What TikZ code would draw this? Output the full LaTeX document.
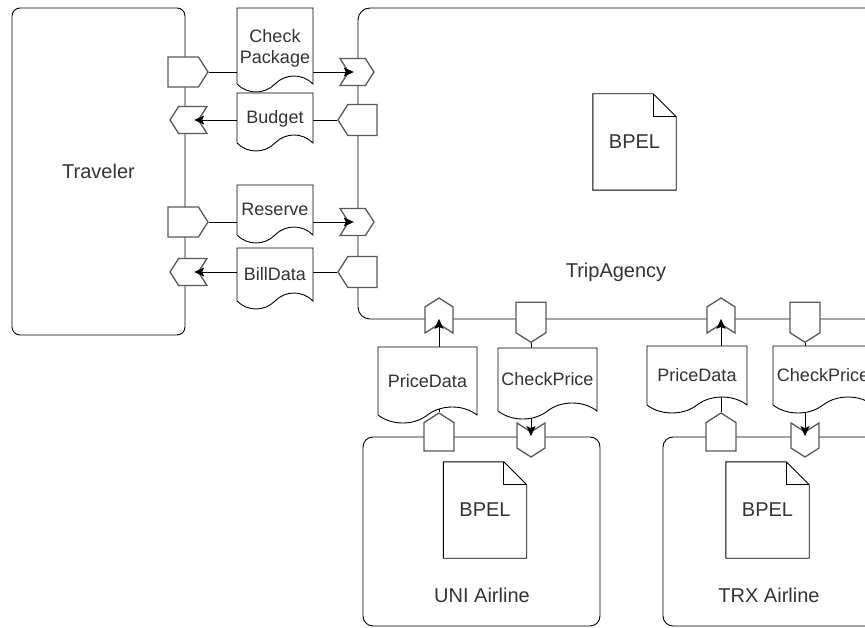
\documentclass[tikz,border=0pt]{standalone}
\usepackage{fontspec}
\setmainfont{Liberation Sans}
\usetikzlibrary{arrows.meta,shapes.symbols}

\begin{document}
\begin{tikzpicture}[
    x=1pt, y=-1pt,
    font=\fontsize{18}{21}\selectfont,
    container/.style={
        draw,
        line width=0.9pt,
        inner sep=0pt,
        text=black!80,
        font=\fontsize{20}{24}\selectfont
    },
    boxtitle/.style={
        text=black!80,
        font=\fontsize{20}{24}\selectfont
    },
    port/.style={
        signal,
        draw=black!65,
        line width=1.3pt,
        fill=white,
        inner sep=0pt,
        signal pointer angle=115
    },
    doc/.style={
        tape,
        tape bend top=none,
        tape bend height=16pt,
        draw,
        line width=0.9pt,
        fill=white,
        inner sep=0pt,
        text height=20pt,
        text depth=0pt,
        text=black!80
    },
    bpel/.style={
        minimum width=83pt,
        minimum height=96pt,
        text=black!80,
        font=\fontsize{20}{24}\selectfont
    },
    note/.style={
        line width=0.9pt
    },
    arrow/.style={
        -{Stealth[length=10pt,width=9pt,inset=2pt]},
        line width=0.9pt
    }
]

\clip (0,0) rectangle (865,628);

% ------------------------------------------------------------------
% Participants
% ------------------------------------------------------------------

\node[container, rounded corners=8pt, minimum width=173pt,
    minimum height=327pt] (traveler) at (98.5,171.5) {Traveler};

\node[container, rounded corners=12pt, minimum width=542pt,
    minimum height=311pt] (agency) at (629,163.5) {};
\node[boxtitle] (agencytitle) at (616,272) {TripAgency};

\node[container, rounded corners=10pt, minimum width=237pt,
    minimum height=189pt] (uni) at (481.5,531.5) {};
\node[boxtitle] (unititle) at (482,595) {UNI Airline};

\node[container, rounded corners=10pt, minimum width=212pt,
    minimum height=189pt] (trx) at (769,531.5) {};
\node[boxtitle] (trxtitle) at (769,595) {TRX Airline};

% ------------------------------------------------------------------
% BPEL processes
% ------------------------------------------------------------------

\node[bpel] (agencybpel) at (634.5,142) {BPEL};
\draw[note] (agencybpel.north west) -- ([xshift=-23pt]agencybpel.north east)
    -- ([yshift=-23pt]agencybpel.north east) -- (agencybpel.south east)
    -- (agencybpel.south west) -- cycle;
\draw[note] ([xshift=-23pt]agencybpel.north east)
    |- ([yshift=-23pt]agencybpel.north east);

\node[bpel] (unibpel) at (485,510) {BPEL};
\draw[note] (unibpel.north west) -- ([xshift=-23pt]unibpel.north east)
    -- ([yshift=-23pt]unibpel.north east) -- (unibpel.south east)
    -- (unibpel.south west) -- cycle;
\draw[note] ([xshift=-23pt]unibpel.north east)
    |- ([yshift=-23pt]unibpel.north east);

\node[bpel] (trxbpel) at (767.5,510) {BPEL};
\draw[note] (trxbpel.north west) -- ([xshift=-23pt]trxbpel.north east)
    -- ([yshift=-23pt]trxbpel.north east) -- (trxbpel.south east)
    -- (trxbpel.south west) -- cycle;
\draw[note] ([xshift=-23pt]trxbpel.north east)
    |- ([yshift=-23pt]trxbpel.north east);

% ------------------------------------------------------------------
% Ports (send: pointed, receive: notched)
% ------------------------------------------------------------------

\node[port, signal to=east, minimum width=40pt, minimum height=30pt]
    (trvcheckport) at (183.2,72) {};
\node[port, signal to=west, signal from=east, minimum width=37pt,
    minimum height=27pt] (trvbudgetport) at (188.5,120) {};
\node[port, signal to=east, minimum width=40pt, minimum height=30pt]
    (trvreserveport) at (183.2,222) {};
\node[port, signal to=west, signal from=east, minimum width=37pt,
    minimum height=27pt] (trvbillport) at (188.5,272) {};

\node[port, signal to=east, signal from=west, minimum width=34pt,
    minimum height=27pt] (agcheckport) at (357,72) {};
\node[port, signal to=west, minimum width=39pt, minimum height=31pt]
    (agbudgetport) at (362.4,120) {};
\node[port, signal to=east, signal from=west, minimum width=34pt,
    minimum height=27pt] (agreserveport) at (357,222) {};
\node[port, signal to=west, minimum width=39pt, minimum height=31pt]
    (agbillport) at (362.4,272) {};

\node[port, signal to=east, signal from=west, rotate=90,
    minimum width=35pt, minimum height=28pt] (agunipriceport) at (439,315.5) {};
\node[port, signal to=east, rotate=-90,
    minimum width=40pt, minimum height=30pt] (agunicheckport) at (531,317.5) {};
\node[port, signal to=east, signal from=west, rotate=90,
    minimum width=35pt, minimum height=28pt] (agtrxpriceport) at (721,315.5) {};
\node[port, signal to=east, rotate=-90,
    minimum width=40pt, minimum height=30pt] (agtrxcheckport) at (805,317.5) {};

\node[port, signal to=east, rotate=90,
    minimum width=38pt, minimum height=30pt] (unipriceport) at (439,436.8) {};
\node[port, signal to=east, signal from=west, rotate=-90,
    minimum width=34pt, minimum height=28pt] (unicheckport) at (531,440) {};
\node[port, signal to=east, rotate=90,
    minimum width=38pt, minimum height=30pt] (trxpriceport) at (721,436.8) {};
\node[port, signal to=east, signal from=west, rotate=-90,
    minimum width=34pt, minimum height=28pt] (trxcheckport) at (805,440) {};

% ------------------------------------------------------------------
% Message flows
% ------------------------------------------------------------------

\draw[arrow] (trvcheckport.east) -- ([xshift=6pt]agcheckport.west);
\draw[arrow] (agbudgetport.west) -- ([xshift=-5pt]trvbudgetport.east);
\draw[arrow] (trvreserveport.east) -- ([xshift=6pt]agreserveport.west);
\draw[arrow] (agbillport.west) -- ([xshift=-5pt]trvbillport.east);

\draw[arrow] (unipriceport.east) -- ([yshift=6pt]agunipriceport.west);
\draw[arrow] (agunicheckport.east) -- ([yshift=-5pt]unicheckport.west);
\draw[arrow] (trxpriceport.east) -- ([yshift=6pt]agtrxpriceport.west);
\draw[arrow] (agtrxcheckport.east) -- ([yshift=-5pt]trxcheckport.west);

% ------------------------------------------------------------------
% Messages
% ------------------------------------------------------------------

\node[doc, minimum width=76pt, minimum height=84pt, text height=23pt]
    (checkpkgdoc) at (275,42)
    {\begin{tabular}{@{}c@{}}Check\\Package\end{tabular}};
\node[doc, minimum width=76pt, minimum height=58pt] (budgetdoc)
    at (275,114) {Budget};
\node[doc, minimum width=76pt, minimum height=58pt] (reservedoc)
    at (275,206) {Reserve};
\node[doc, minimum width=76pt, minimum height=61pt] (billdoc)
    at (275,270.5) {BillData};

\node[doc, minimum width=99pt, minimum height=76pt] (unipricedoc)
    at (427.5,377) {PriceData};
\node[doc, minimum width=99pt, minimum height=71pt] (unicheckdoc)
    at (547.5,375.5) {CheckPrice};
\node[doc, minimum width=100pt, minimum height=67pt] (trxpricedoc)
    at (697,371.5) {PriceData};
\node[doc, minimum width=100pt, minimum height=67pt] (trxcheckdoc)
    at (823,371.5) {CheckPrice};

\end{tikzpicture}
\end{document}
